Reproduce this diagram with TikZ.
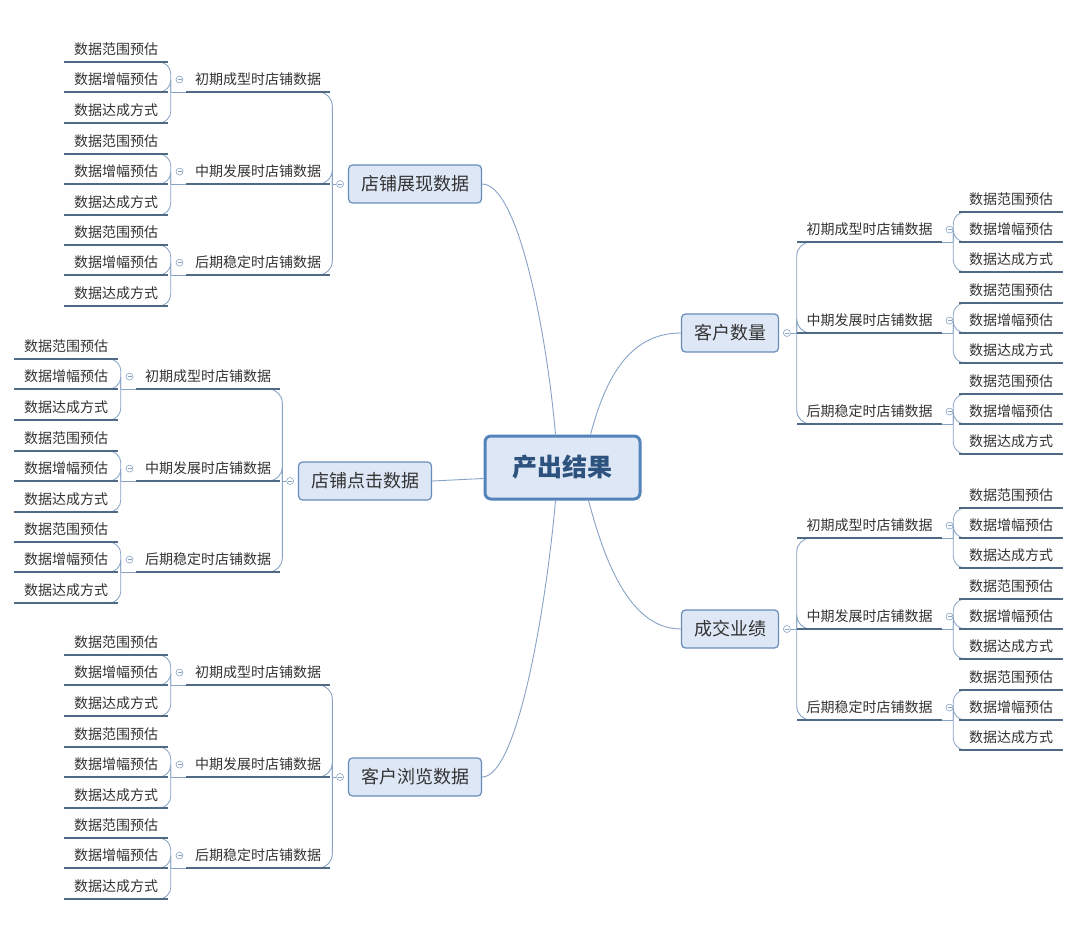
\documentclass[tikz,border=0pt]{standalone}
\usepackage{fontspec}
\setmainfont{Noto Sans CJK SC}
\usepackage{tikz}
\usetikzlibrary{positioning, calc}
\definecolor{myline}{RGB}{80,106,134}
\definecolor{mytwig}{RGB}{135,162,196}
\definecolor{myedge}{RGB}{104,140,186}
\definecolor{myfill}{RGB}{221,231,245}
\definecolor{mycore}{RGB}{84,130,186}
\definecolor{mytext}{RGB}{51,51,51}
\definecolor{mytitle}{RGB}{46,82,126}
\tikzset{
  corebox/.style={rectangle, draw=mycore, fill=myfill, line width=3pt,
    rounded corners=6pt, minimum width=155pt, minimum height=63pt,
    font=\fontsize{25}{25}\selectfont\bfseries, text=mytitle},
  mainbox/.style={rectangle, draw=myedge, fill=myfill, line width=1.2pt,
    rounded corners=4pt, minimum height=38pt, inner xsep=12.5pt,
    font=\fontsize{18}{18}\selectfont, text=black!80},
  leafnode/.style={inner xsep=0pt, inner ysep=5.7pt, text height=11pt,
    text depth=2pt, minimum width=104pt, anchor=south,
    font=\fontsize{14}{14}\selectfont, text=mytext},
  subnode/.style={leafnode, minimum width=144pt},
  fold/.style={circle, draw=mytwig, fill=white, line width=0.6pt,
    minimum size=7pt, inner sep=0pt,
    path picture={\draw[mytwig, line width=0.6pt]
      ([xshift=-2pt]path picture bounding box.center) --
      ([xshift=2pt]path picture bounding box.center);}},
  uline/.style={myline, line width=2.6pt},
  twig/.style={mytwig, line width=0.8pt, rounded corners=12pt},
  trunk/.style={mytwig, line width=0.9pt, rounded corners=14pt},
  link/.style={mytwig, line width=0.9pt}
}

\begin{document}
\begin{tikzpicture}[x=1pt, y=-1pt]
  \useasboundingbox (0,0) rectangle (1079,925);

  % hub
  \node[corebox] (hub) at (562.5,467.5) {产出结果};

  % left side
  \foreach \m/\mx/\my/\sx/\lx/\txt in {a/415/184/258/116/店铺展现数据, b/365/481/208/66/店铺点击数据, c/415/777/258/116/客户浏览数据} {
    \node[mainbox] (\m) at (\mx,\my) {\txt};
    \node[fold, left=4pt of \m] (\m-f) {};
    \draw[link] (\m-f.west) -- ++(-4,0) coordinate (\m-k);
    \foreach \s/\dy/\stxt in {1/-92/初期成型时店铺数据, 2/0/中期发展时店铺数据, 3/91/后期稳定时店铺数据} {
      \node[subnode] (\m\s) at (\sx,{\my+\dy}) {\stxt};
      \draw[trunk] (\m-k) |- ([xshift=-20pt]\m\s.south east);
      \draw[link] (\m\s.south west) -- ++(-15,0) coordinate (\m\s-k);
      \foreach \l/\ly/\ltxt in {1/-30/数据范围预估, 2/0/数据增幅预估, 3/31/数据达成方式} {
        \node[leafnode] (\m\s\l) at (\lx,{\my+\dy+\ly}) {\ltxt};
        \draw[twig] (\m\s-k) |- ([xshift=-20pt]\m\s\l.south east);
        \draw[uline] (\m\s\l.south west) -- (\m\s\l.south east);
      }
      \draw[uline] (\m\s.south west) -- (\m\s.south east);
      \node[fold, left=2.5pt of \m\s] (\m\s-f) {};
    }
  }

  % right side
  \foreach \m/\mx/\my/\txt in {d/730/333/客户数量, e/730/629/成交业绩} {
    \node[mainbox] (\m) at (\mx,\my) {\txt};
    \node[fold, right=4pt of \m] (\m-f) {};
    \draw[link] (\m-f.east) -- ++(6,0) coordinate (\m-k);
    \foreach \s/\dy/\stxt in {1/-91/初期成型时店铺数据, 2/0/中期发展时店铺数据, 3/91/后期稳定时店铺数据} {
      \node[subnode] (\m\s) at (869.5,{\my+\dy}) {\stxt};
      \draw[trunk] (\m-k) |- ([xshift=20pt]\m\s.south west);
      \draw[link] (\m\s.south east) -- ++(11.5,0) coordinate (\m\s-k);
      \foreach \l/\ly/\ltxt in {1/-30/数据范围预估, 2/0/数据增幅预估, 3/30/数据达成方式} {
        \node[leafnode] (\m\s\l) at (1011,{\my+\dy+\ly}) {\ltxt};
        \draw[twig] (\m\s-k) |- ([xshift=20pt]\m\s\l.south west);
        \draw[uline] (\m\s\l.south west) -- (\m\s\l.south east);
      }
      \draw[uline] (\m\s.south west) -- (\m\s.south east);
      \node[fold, right=4pt of \m\s] (\m\s-f) {};
    }
  }

  % hub to branches
  \draw[link] ([xshift=-7pt]hub.north) .. controls +(-9,-103) and +(36,0) .. (a.east);
  \draw[link] ([yshift=-11pt]hub.west) -- (b.east);
  \draw[link] ([xshift=-7pt]hub.south) .. controls +(-9,103) and +(36,0) .. (c.east);
  \draw[link] ([xshift=28pt]hub.north) .. controls +(14,-52) and +(-54,0) .. (d.west);
  \draw[link] ([xshift=26pt]hub.south) .. controls +(14,52) and +(-54,0) .. (e.west);
\end{tikzpicture}
\end{document}
